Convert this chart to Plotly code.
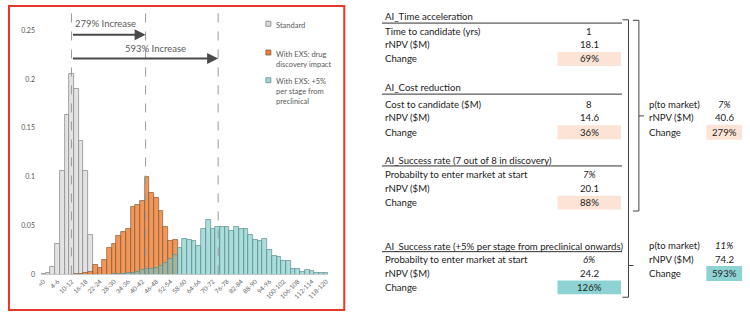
import plotly.graph_objects as go

# ---------------- data ----------------
bins = ["<0", "0-2", "2-4", "4-6", "6-8", "8-10", "10-12", "12-14", "14-16", "16-18",
        "18-20", "20-22", "22-24", "24-26", "26-28", "28-30", "30-32", "32-34", "34-36", "36-38",
        "38-40", "40-42", "42-44", "44-46", "46-48", "48-50", "50-52", "52-54", "54-56", "56-58",
        "58-60", "60-62", "62-64", "64-66", "66-68", "68-70", "70-72", "72-74", "74-76", "76-78",
        "78-80", "80-82", "82-84", "84-86", "86-88", "88-90", "90-92", "92-94", "94-96", "96-98",
        "98-100", "100-102", "102-104", "104-106", "106-108", "108-110", "110-112", "112-114", "114-116", "116-118",
        "118-120"]

standard = [0.001, 0.002, 0.008, 0.031, 0.106, 0.163, 0.205, 0.190, 0.137, 0.106,
            0.041, 0.0005, 0, 0, 0, 0, 0, 0, 0, 0,
            0, 0, 0, 0, 0, 0, 0, 0, 0, 0,
            0, 0, 0, 0, 0, 0, 0, 0, 0, 0,
            0, 0, 0, 0, 0, 0, 0, 0, 0, 0,
            0, 0, 0, 0, 0, 0, 0, 0, 0, 0,
            0]

drug_discovery = [0, 0, 0, 0, 0, 0, 0, 0.0005, 0.001, 0.002,
                  0.003, 0.0098, 0.007, 0.015, 0.027, 0.031, 0.040, 0.044, 0.047, 0.069,
                  0.071, 0.075, 0.100, 0.084, 0.078, 0.065, 0.049, 0.034, 0.035, 0,
                  0, 0, 0, 0, 0, 0, 0, 0, 0, 0,
                  0, 0, 0, 0, 0, 0, 0, 0, 0, 0,
                  0, 0, 0, 0, 0, 0, 0, 0, 0, 0,
                  0]

plus5 = [0, 0, 0, 0, 0, 0, 0, 0, 0, 0,
         0, 0, 0, 0, 0, 0.001, 0.001, 0.001, 0.002, 0.002,
         0.003, 0.005, 0.006, 0.006, 0.007, 0.009, 0.012, 0.016, 0.020, 0.027,
         0.036, 0.035, 0.034, 0.029, 0.047, 0.056, 0.047, 0.049, 0.049, 0.049,
         0.045, 0.049, 0.047, 0.047, 0.041, 0.035, 0.034, 0.036, 0.025, 0.019,
         0.018, 0.014, 0.014, 0.006, 0.006, 0.003, 0.005, 0.004, 0.002, 0.002,
         0.002]

tick_labels = ["<0", "4-6", "10-12", "16-18", "22-24", "28-30", "34-36", "40-42", "46-48", "52-54",
               "58-60", "64-66", "70-72", "76-78", "82-84", "88-90", "94-96", "100-102", "106-108",
               "112-114", "118-120"]
y_ticks = [0, 0.05, 0.1, 0.15, 0.2, 0.25]
y_tick_text = ["0", "0.05", "0.1", "0.15", "0.2", "0.25"]

series_names = ["Standard", "With EXS: drug<br>discovery impact", "With EXS: +5%<br>per stage from<br>preclinical"]
median_positions = [5.96, 21.7, 37.1]
increase_labels = ["279% Increase", "593% Increase"]

# tables
sections = [
    ("AI_Time acceleration", ["Time to candidate (yrs)", "rNPV ($M)", "Change"], ["1", "18.1", "69%"]),
    ("AI_Cost reduction", ["Cost to candidate ($M)", "rNPV ($M)", "Change"], ["8", "14.6", "36%"]),
    ("AI_Success rate (7 out of 8 in discovery)", ["Probabilty to enter market at start", "rNPV ($M)", "Change"], ["<i>7%</i>", "20.1", "88%"]),
    ("AI_Success rate (+5% per stage from preclinical onwards)", ["Probabilty to enter market at start", "rNPV ($M)", "Change"], ["<i>6%</i>", "24.2", "126%"]),
]
results = [
    (["p(to market)", "rNPV ($M)", "Change"], ["<i>7%</i>", "40.6", "279%"]),
    (["p(to market)", "rNPV ($M)", "Change"], ["<i>11%</i>", "74.2", "593%"]),
]

# ---------------- layout helpers ----------------
W, H = 750, 324
def px(x): return x / W
def py(y): return 1 - y / H

PEACH = "#FBE3D5"
TEAL_BOX = "#8DD3D3"
FONT = "Lato"
TXT = "#222222"
TS = 9.6

fig = go.Figure()
fig.add_trace(go.Bar(x=bins, y=standard, name="Standard",
                     marker=dict(color="rgba(224,224,224,0.9)", line=dict(color="#8f8f8f", width=0.8))))
fig.add_trace(go.Bar(x=bins, y=drug_discovery, name="drug",
                     marker=dict(color="rgba(237,125,49,0.8)", line=dict(color="#8a5a38", width=0.7))))
fig.add_trace(go.Bar(x=bins, y=plus5, name="plus5",
                     marker=dict(color="rgba(115,198,198,0.6)", line=dict(color="#5f8f8f", width=0.7))))

shapes = []
annotations = []

# dashed median lines
for m in median_positions:
    shapes.append(dict(type="line", xref="x", yref="paper", x0=m, x1=m, y0=py(277), y1=py(12),
                       line=dict(color="#9a9a9a", width=1, dash="dash"), layer="above"))

# increase arrows
y_arr = [(277 - 35) / 985, (277 - 59) / 985]
for i, (lab, target) in enumerate(zip(increase_labels, median_positions[1:])):
    annotations.append(dict(xref="x", yref="y", axref="x", ayref="y",
                            x=target, y=y_arr[i], ax=median_positions[0], ay=y_arr[i],
                            showarrow=True, arrowhead=2, arrowsize=1.1, arrowwidth=2,
                            arrowcolor="#4a4a4a", text=""))
annotations.append(dict(xref="paper", yref="paper", x=px(69), y=py(24), xanchor="left", yanchor="middle",
                        text=increase_labels[0], showarrow=False,
                        font=dict(family=FONT, size=9.5, color="#595959")))
annotations.append(dict(xref="paper", yref="paper", x=px(119), y=py(49), xanchor="left", yanchor="middle",
                        text=increase_labels[1], showarrow=False,
                        font=dict(family=FONT, size=9.5, color="#595959")))

# legend (manual)
leg_y = [24, 53, 81]
leg_fill = ["#dedede", "#ED7D31", "#9fd6d6"]
leg_line = ["#7f7f7f", "#8a5a38", "#5f8f8f"]
for name, yy, fc, lc in zip(series_names, leg_y, leg_fill, leg_line):
    shapes.append(dict(type="rect", xref="paper", yref="paper", x0=px(263), x1=px(268),
                       y0=py(yy + 2.5), y1=py(yy - 2.5), fillcolor=fc, line=dict(color=lc, width=0.8)))
    annotations.append(dict(xref="paper", yref="paper", x=px(271), y=py(yy - 5), xanchor="left", yanchor="top",
                            text=name, showarrow=False, align="left",
                            font=dict(family=FONT, size=7.5, color="#595959")))

# red frame
shapes.append(dict(type="rect", xref="paper", yref="paper", x0=px(4), x1=px(342), y0=py(313), y1=py(6),
                   line=dict(color="#E8362B", width=2), fillcolor="rgba(0,0,0,0)"))

# tables
head_y = [16.5, 88.3, 161.5, 248.5]
line_y = [23.3, 95, 167.5, 254]
row_y = [[31.7, 45.3, 59.5], [105, 119, 133.5], [176.5, 190.7, 204.5], [261.7, 276, 290]]
box_col = [PEACH, PEACH, PEACH, TEAL_BOX]
for (head, labels, vals), hy, ly, rys, bc in zip(sections, head_y, line_y, row_y, box_col):
    annotations.append(dict(xref="paper", yref="paper", x=px(381), y=py(hy), xanchor="left", yanchor="middle",
                            text=head, showarrow=False, font=dict(family=FONT, size=TS, color=TXT)))
    shapes.append(dict(type="line", xref="paper", yref="paper", x0=px(380), x1=px(622), y0=py(ly), y1=py(ly),
                       line=dict(color="#333", width=1)))
    for lab, val, ry in zip(labels, vals, rys):
        annotations.append(dict(xref="paper", yref="paper", x=px(381), y=py(ry), xanchor="left", yanchor="middle",
                                text=lab, showarrow=False, font=dict(family=FONT, size=TS, color=TXT)))
        annotations.append(dict(xref="paper", yref="paper", x=px(589), y=py(ry), xanchor="center", yanchor="middle",
                                text=val, showarrow=False, font=dict(family=FONT, size=TS, color=TXT)))
    shapes.append(dict(type="rect", xref="paper", yref="paper", x0=px(557), x1=px(621),
                       y0=py(rys[2] + 7), y1=py(rys[2] - 7), fillcolor=bc, line=dict(width=0), layer="below"))

res_y = [[105, 119, 133.5], [247.7, 261.7, 276]]
res_box = [PEACH, TEAL_BOX]
for (labels, vals), rys, bc in zip(results, res_y, res_box):
    for lab, val, ry in zip(labels, vals, rys):
        annotations.append(dict(xref="paper", yref="paper", x=px(647), y=py(ry), xanchor="left", yanchor="middle",
                                text=lab, showarrow=False, font=dict(family=FONT, size=TS, color=TXT)))
        annotations.append(dict(xref="paper", yref="paper", x=px(725), y=py(ry), xanchor="center", yanchor="middle",
                                text=val, showarrow=False, font=dict(family=FONT, size=TS, color=TXT)))
    shapes.append(dict(type="rect", xref="paper", yref="paper", x0=px(707), x1=px(743),
                       y0=py(rys[2] + 7.5), y1=py(rys[2] - 7.5), fillcolor=bc, line=dict(width=0), layer="below"))

# brackets
def bracket(x, y0, y1, ym, hook=6, tick=5):
    path = f"M {px(x-hook)},{py(y0)} L {px(x)},{py(y0)} L {px(x)},{py(y1)} L {px(x-hook)},{py(y1)}"
    shapes.append(dict(type="path", xref="paper", yref="paper", path=path, line=dict(color="#404040", width=1)))
    shapes.append(dict(type="line", xref="paper", yref="paper", x0=px(x), x1=px(x + tick), y0=py(ym), y1=py(ym),
                       line=dict(color="#404040", width=1)))

bracket(639, 20.5, 213, 117)
bracket(628.5, 20, 300, 268)

fig.update_layout(
    width=W, height=H, margin=dict(l=0, r=0, t=0, b=0),
    paper_bgcolor="white", plot_bgcolor="white",
    barmode="overlay", bargap=0, showlegend=False,
    xaxis=dict(domain=[px(36.3), px(326)], range=[-0.5, 60.5], type="category",
               tickmode="array", tickvals=tick_labels, ticktext=tick_labels, tickangle=-45,
               tickfont=dict(family=FONT, size=6.3, color="#666666"), showgrid=False,
               showline=True, linecolor="#c8c8c8", linewidth=1, ticks=""),
    yaxis=dict(domain=[py(277), py(12)], range=[0, 0.269], tickmode="array",
               tickvals=y_ticks, ticktext=y_tick_text, ticklabelstandoff=5,
               tickfont=dict(family=FONT, size=7, color="#595959"), showgrid=False,
               zeroline=False, showline=False, ticks=""),
    shapes=shapes, annotations=annotations,
)

fig.write_html("out.html")
